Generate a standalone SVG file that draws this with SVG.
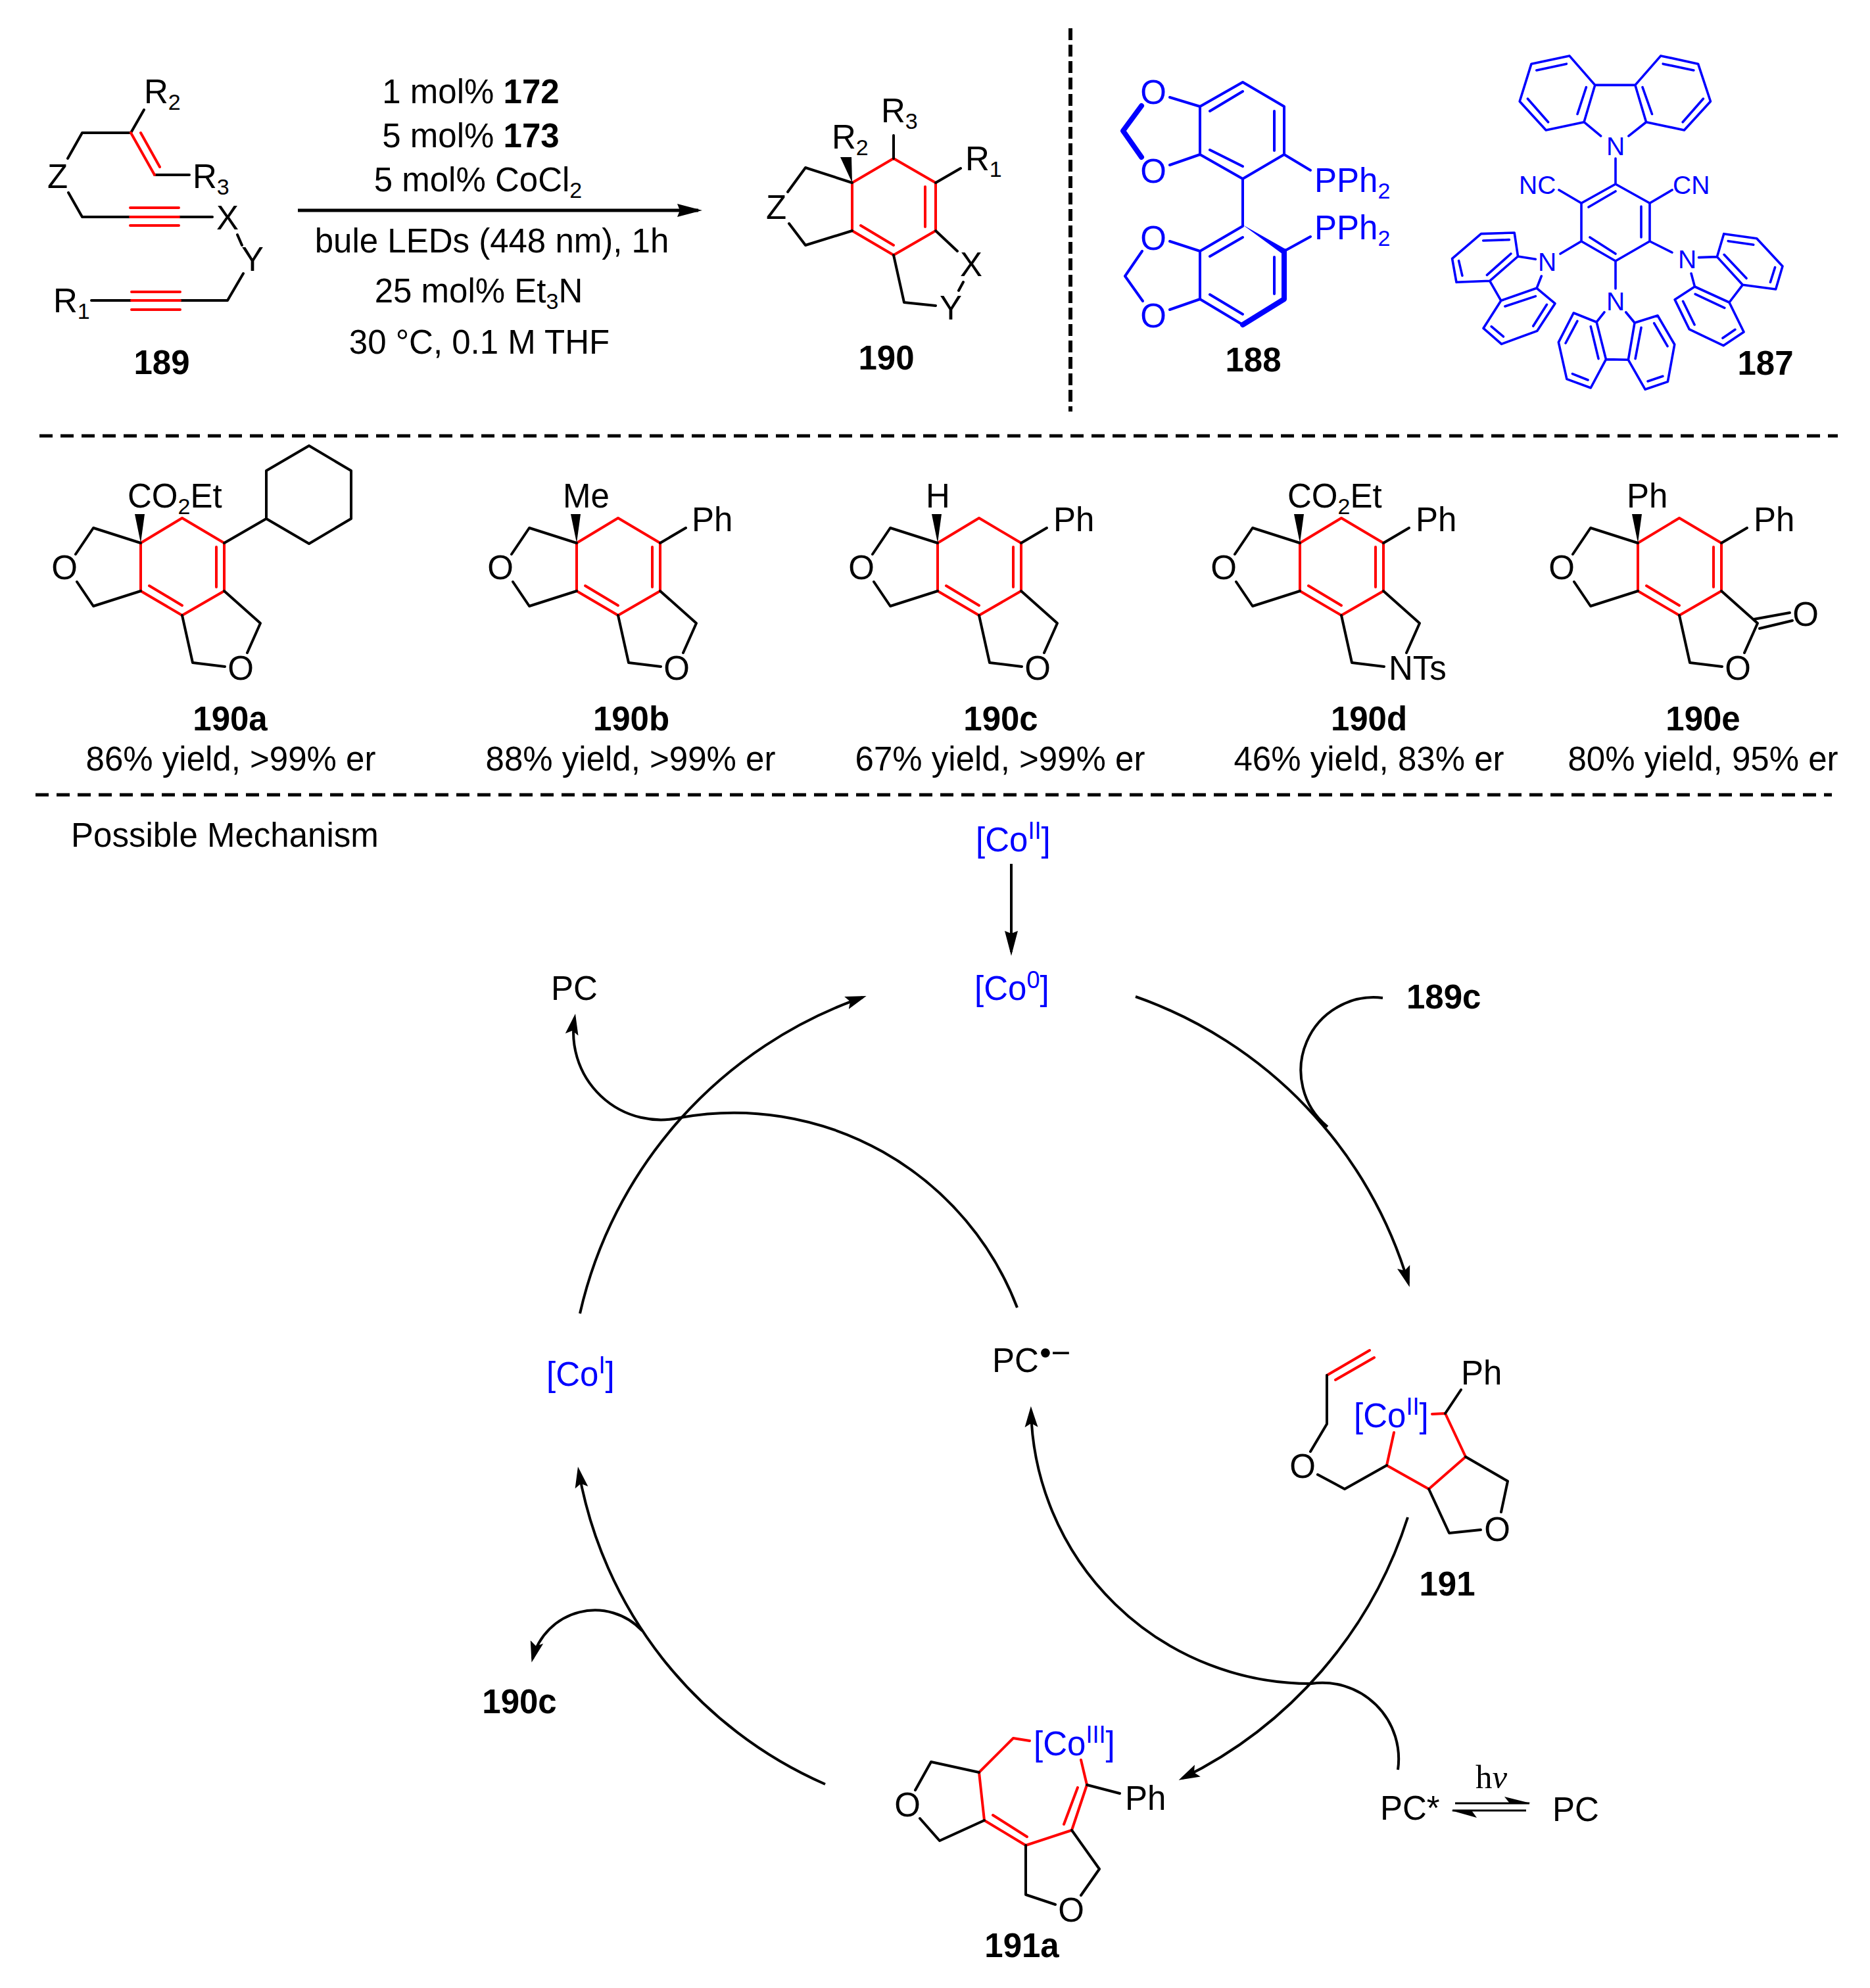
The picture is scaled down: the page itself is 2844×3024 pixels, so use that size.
<svg xmlns="http://www.w3.org/2000/svg" xmlns:xlink="http://www.w3.org/1999/xlink" width="2844" height="3024" viewBox="0 0 2844 3024">
<style>
text{font-family:"Liberation Sans",Arial,sans-serif;font-size:51px;fill:#000}
.bd{font-weight:bold}
.bl{fill:#00f}
.sm{font-size:39px}
.k,.r,.u,.c,.d{fill:none;stroke-linecap:round;stroke-linejoin:round}
.k{stroke:#000;stroke-width:4}
.r{stroke:#f00;stroke-width:4}
.u{stroke:#00f;stroke-width:4}
.t{stroke-width:3.6}
.th{stroke-width:8}
.n{vector-effect:non-scaling-stroke}
.c{stroke:#000;stroke-width:4;stroke-linecap:butt}
.d{stroke:#000;stroke-width:5;stroke-dasharray:20 12;stroke-linecap:butt}
</style>
<defs>
<marker id="head" markerUnits="userSpaceOnUse" markerWidth="40" markerHeight="24" refX="26" refY="12" orient="auto"><path d="M32 12L0 2L6 12L0 22Z" fill="#000"/></marker>
<marker id="headL" markerUnits="userSpaceOnUse" markerWidth="44" markerHeight="24" refX="32" refY="12" orient="auto"><path d="M38 12L0 2L4 12L0 22Z" fill="#000"/></marker>
<g id="core">
<path class="r" d="M214 826L277 788L341 826V899L277 936L214 899ZM329 832V893M227 891L277 921"/>
<path class="k" d="M214 826L142 803L115 843M117 885L142 922L214 899M277 936L293 1008L342 1014M376 993L396 948L341 899"/>
<path d="M214 826L205 782H220Z" fill="#000"/>
</g>
</defs>

<g id="separators">
<path class="d" style="stroke-width:6;stroke-dasharray:18 7" d="M1628 43V626"/>
<path class="d" d="M60 663H2795"/>
<path class="d" d="M54 1209H2786"/>
</g>

<g id="s189">
<path class="k" d="M219 167L199 202H125L103 241M104 293L125 330H198M272 330H323M361 357L368 373M370 416L346 457H274M200 457H139M235 266H288"/>
<path class="r" d="M199 202L235 266M214 202L243 254M198 316H272M198 330H272M198 343H272M200 444H274M200 457H274M200 471H274"/>
<text x="219" y="157">R<tspan dy="10" font-size="34">2</tspan></text>
<text x="293" y="286">R<tspan dy="10" font-size="34">3</tspan></text>
<text x="72" y="286">Z</text>
<text x="329" y="349">X</text>
<text x="367" y="412">Y</text>
<text x="81" y="475">R<tspan dy="10" font-size="34">1</tspan></text>
<text x="246" y="569" text-anchor="middle" class="bd">189</text>
</g>

<g id="conditions">
<text x="716" y="157" text-anchor="middle">1 mol% <tspan class="bd">172</tspan></text>
<text x="716" y="224" text-anchor="middle">5 mol% <tspan class="bd">173</tspan></text>
<text x="727" y="291" text-anchor="middle">5 mol% CoCl<tspan dy="10" font-size="34">2</tspan></text>
<path class="c" style="stroke-width:5" d="M453 320H1062" marker-end="url(#headL)"/>
<text x="748" y="384" text-anchor="middle">bule LEDs (448 nm), 1h</text>
<text x="728" y="460" text-anchor="middle">25 mol% Et<tspan dy="10" font-size="34">3</tspan><tspan dy="-10">N</tspan></text>
<text x="729" y="538" text-anchor="middle">30 °C, 0.1 M THF</text>
</g>

<g id="s190">
<path class="r" d="M1359 241L1423 278V351L1359 388L1296 351V278ZM1407 284V345M1309 343L1359 373"/>
<path class="k" d="M1359 206V241M1423 278L1461 256M1296 278L1225 255L1198 292M1200 340L1225 373L1296 351M1423 351L1456 382M1465 429L1458 442M1423 465L1375 460L1359 388"/>
<path d="M1296 278L1278 239L1295 239Z" fill="#000"/>
<text x="1340" y="186">R<tspan dy="10" font-size="34">3</tspan></text>
<text x="1468" y="259">R<tspan dy="10" font-size="34">1</tspan></text>
<text x="1265" y="226">R<tspan dy="10" font-size="34">2</tspan></text>
<text x="1165" y="333">Z</text>
<text x="1460" y="420">X</text>
<text x="1429" y="486">Y</text>
<text x="1348" y="562" text-anchor="middle" class="bd">190</text>
</g>

<g id="s188">
<path class="u" d="M1890 125L1953 162V235L1890 272L1825 235V162ZM1890 139L1840 169M1938 169V229M1840 228L1890 253M1779 148L1825 162M1779 251L1825 235M1953 235L1993 259M1890 272V344L1825 382V455L1890 494M1840 390L1890 361M1938 391V447M1840 448L1890 478M1779 367L1825 382M1779 471L1825 455M1953 382L1993 360M1737 382L1711 420L1738 458"/>
<path class="u th" d="M1736 161L1708 199L1736 239M1953 382V455L1890 494"/>
<path d="M1890 342L1957 380L1950 386Z" fill="#00f"/>
<text class="bl" x="1754" y="158" text-anchor="middle">O</text>
<text class="bl" x="1754" y="278" text-anchor="middle">O</text>
<text class="bl" x="1754" y="380" text-anchor="middle">O</text>
<text class="bl" x="1754" y="498" text-anchor="middle">O</text>
<text class="bl" x="1999" y="292">PPh<tspan dy="10" font-size="34">2</tspan></text>
<text class="bl" x="1999" y="364">PPh<tspan dy="10" font-size="34">2</tspan></text>
<text x="1906" y="565" text-anchor="middle" class="bd">188</text>
</g>

<g id="s187">
<path class="u t" d="M2457 280L2509 309V367L2457 397L2405 367V309ZM2496 314V361M2416 315L2457 291M2418 361L2457 386M2457 241V280M2405 309L2371 289M2509 309L2543 289M2405 367L2373 386M2509 367L2543 384M2457 397V439"/>
<g transform="translate(1100 0) scale(1.1122 .4082)">
<path class="u t n" d="M1200 507L1177 455L1192 317L1157 208L1105 238L1089 378L1125 485L1177 455M1238 507L1262 455L1247 317L1282 208L1333 238L1350 378L1314 485L1262 455M1112 262L1153 238M1100 368L1128 455M1168 425L1180 325M1327 262L1285 238M1340 368L1312 455M1270 425L1257 325M1192 317H1247"/>
</g>
<g transform="translate(2180 340) scale(.3571 .3333)">
<path class="u t n" d="M435 163L360 150L345 42L203 47L80 160L98 268L240 262L360 150M460 240L440 295L518 365L442 490L290 550L213 478L288 352L440 295M240 262L288 352M212 78L323 74M108 170L123 238M228 235L330 138M305 378L435 332M483 370L425 468M247 470L298 516"/>
<path class="u t n" d="M1130 155L1208 152L1237 47L1377 68L1487 195L1458 300L1317 280L1208 152M1098 228L1113 288L1028 347L1090 483L1235 557L1322 495L1260 360L1113 288M1317 280L1260 360M1255 80L1363 97M1455 200L1435 268M1238 142L1333 250M1115 322L1240 385M1063 355L1112 462M1232 523L1285 484"/>
<path class="u t n" d="M728 405L695 450L597 408L533 542L568 710L670 750L735 620L695 450M820 405L857 453L955 420L1027 552L998 722L902 757L830 622L857 453M735 620L830 622M613 445L563 546M670 470L703 617M592 686L658 714M940 455L997 560M885 475L860 617M913 720L977 697"/>
</g>
<text class="bl sm" x="2457" y="236" text-anchor="middle">N</text>
<text class="bl sm" x="2310" y="295">NC</text>
<text class="bl sm" x="2544" y="295">CN</text>
<text class="bl sm" x="2353" y="412" text-anchor="middle">N</text>
<text class="bl sm" x="2566" y="408" text-anchor="middle">N</text>
<text class="bl sm" x="2457" y="472" text-anchor="middle">N</text>
<text x="2685" y="570" text-anchor="middle" class="bd">187</text>
</g>

<g id="p190a">
<use xlink:href="#core" href="#core"/>
<path class="k" d="M341 826L405 789V716L470 678L534 716V789L470 827L405 789"/>
<text x="194" y="772">CO<tspan dy="10" font-size="34">2</tspan><tspan dy="-10">Et</tspan></text>
<text x="98" y="881" text-anchor="middle">O</text>
<text x="366" y="1034" text-anchor="middle">O</text>
<text x="350" y="1111" text-anchor="middle" class="bd">190a</text>
<text x="351" y="1172" text-anchor="middle">86% yield, &gt;99% er</text>
</g>
<g id="p190b">
<use xlink:href="#core" href="#core" x="663"/>
<path class="k" d="M1004 826L1043 803"/>
<text x="856" y="772">Me</text>
<text x="1052" y="808">Ph</text>
<text x="761" y="881" text-anchor="middle">O</text>
<text x="1029" y="1034" text-anchor="middle">O</text>
<text x="960" y="1111" text-anchor="middle" class="bd">190b</text>
<text x="959" y="1172" text-anchor="middle">88% yield, &gt;99% er</text>
</g>
<g id="p190c">
<use xlink:href="#core" href="#core" x="1212"/>
<path class="k" d="M1553 826L1592 803"/>
<text x="1408" y="772">H</text>
<text x="1602" y="808">Ph</text>
<text x="1310" y="881" text-anchor="middle">O</text>
<text x="1578" y="1034" text-anchor="middle">O</text>
<text x="1522" y="1111" text-anchor="middle" class="bd">190c</text>
<text x="1521" y="1172" text-anchor="middle">67% yield, &gt;99% er</text>
</g>
<g id="p190d">
<use xlink:href="#core" href="#core" x="1763"/>
<path class="k" d="M2104 826L2143 803"/>
<text x="1958" y="772">CO<tspan dy="10" font-size="34">2</tspan><tspan dy="-10">Et</tspan></text>
<text x="2153" y="808">Ph</text>
<text x="1861" y="881" text-anchor="middle">O</text>
<text x="2112" y="1034">NTs</text>
<text x="2082" y="1111" text-anchor="middle" class="bd">190d</text>
<text x="2082" y="1172" text-anchor="middle">46% yield, 83% er</text>
</g>
<g id="p190e">
<use xlink:href="#core" href="#core" x="2277"/>
<path class="k" d="M2618 826L2657 803M2667 942L2722 932M2676 956L2726 944"/>
<text x="2474" y="772">Ph</text>
<text x="2667" y="808">Ph</text>
<text x="2375" y="881" text-anchor="middle">O</text>
<text x="2643" y="1034" text-anchor="middle">O</text>
<text x="2746" y="952" text-anchor="middle">O</text>
<text x="2590" y="1111" text-anchor="middle" class="bd">190e</text>
<text x="2590" y="1172" text-anchor="middle">80% yield, 95% er</text>
</g>

<g id="title"><text x="108" y="1288">Possible Mechanism</text></g>

<g id="connectors">
<path class="c" d="M1538 1314V1448" marker-end="url(#headL)"/>
<path class="c" d="M882 1998A666 666 0 0 1 1312 1517" marker-end="url(#head)"/>
<path class="c" d="M1727 1516A661 661 0 0 1 2142 1952" marker-end="url(#head)"/>
<path class="c" d="M2103 1518A111 111 0 0 0 2019 1714"/>
<path class="c" d="M1547 1989A461 461 0 0 0 1035 1700A133 133 0 0 1 874 1548" marker-end="url(#head)"/>
<path class="c" d="M2141 2308A668 668 0 0 1 1798 2705" marker-end="url(#head)"/>
<path class="c" d="M2126 2692A116 116 0 0 0 1994 2561A425 425 0 0 1 1568 2145" marker-end="url(#head)"/>
<path class="c" d="M1255 2714A641 641 0 0 1 880 2237" marker-end="url(#head)"/>
<path class="c" d="M977 2481A98 98 0 0 0 810 2523" marker-end="url(#head)"/>
<path class="c" style="stroke-width:3" d="M2213 2743H2326M2209 2754H2321"/>
<path d="M2328 2743L2288 2733L2296 2743Z M2207 2754L2246 2765L2238 2754Z" fill="#000"/>
</g>

<g id="coII"><text class="bl" x="1484" y="1295">[Co<tspan dy="-19" font-size="36">II</tspan><tspan dy="19">]</tspan></text></g>
<g id="co0"><text class="bl" x="1482" y="1521">[Co<tspan dy="-18" font-size="36">0</tspan><tspan dy="18">]</tspan></text></g>
<g id="coI"><text class="bl" x="831" y="2108">[Co<tspan dy="-19" font-size="36">I</tspan><tspan dy="19">]</tspan></text></g>
<g id="pc1"><text x="838" y="1521">PC</text></g>
<g id="pcRad"><text x="1509" y="2087">PC</text><text x="1581" y="2075">•−</text></g>
<g id="r189c"><text x="2139" y="1534" class="bd">189c</text></g>
<g id="p190cout"><text x="790" y="2606" text-anchor="middle" class="bd">190c</text></g>
<g id="pcStar"><text x="2099" y="2768">PC*</text></g>
<g id="hv"><text x="2244" y="2720" style="font-family:'Liberation Serif',serif">h<tspan font-style="italic">ν</tspan></text></g>
<g id="pc2"><text x="2361" y="2770">PC</text></g>

<g id="s191">
<path class="r" d="M2018 2092L2083 2054M2031 2099L2090 2065M2109 2229L2120 2179M2109 2229L2173 2265L2229 2216L2198 2150L2178 2151"/>
<path class="k" d="M2018 2092V2166L1993 2208M2004 2243L2045 2265L2109 2229M2198 2150L2222 2114M2229 2216L2293 2253L2283 2300M2173 2265L2204 2332L2252 2327"/>
<text class="bl" x="2059" y="2171">[Co<tspan dy="-19" font-size="36">II</tspan><tspan dy="19">]</tspan></text>
<text x="2222" y="2106">Ph</text>
<text x="1981" y="2248" text-anchor="middle">O</text>
<text x="2277" y="2344" text-anchor="middle">O</text>
<text x="2201" y="2427" text-anchor="middle" class="bd">191</text>
</g>

<g id="s191a">
<path class="r" d="M1566 2648L1541 2644L1489 2696L1497 2769L1560 2807L1630 2784L1653 2715L1644 2677M1510 2761L1562 2794M1618 2775L1639 2719"/>
<path class="k" d="M1653 2715L1703 2728M1489 2696L1416 2680L1392 2723M1399 2766L1429 2800L1497 2769M1560 2807V2882L1605 2897M1644 2883L1672 2843L1630 2784"/>
<text class="bl" x="1572" y="2670">[Co<tspan dy="-19" font-size="36">III</tspan><tspan dy="19">]</tspan></text>
<text x="1711" y="2753">Ph</text>
<text x="1380" y="2763" text-anchor="middle">O</text>
<text x="1629" y="2923" text-anchor="middle">O</text>
<text x="1554" y="2977" text-anchor="middle" class="bd">191a</text>
</g>
</svg>
